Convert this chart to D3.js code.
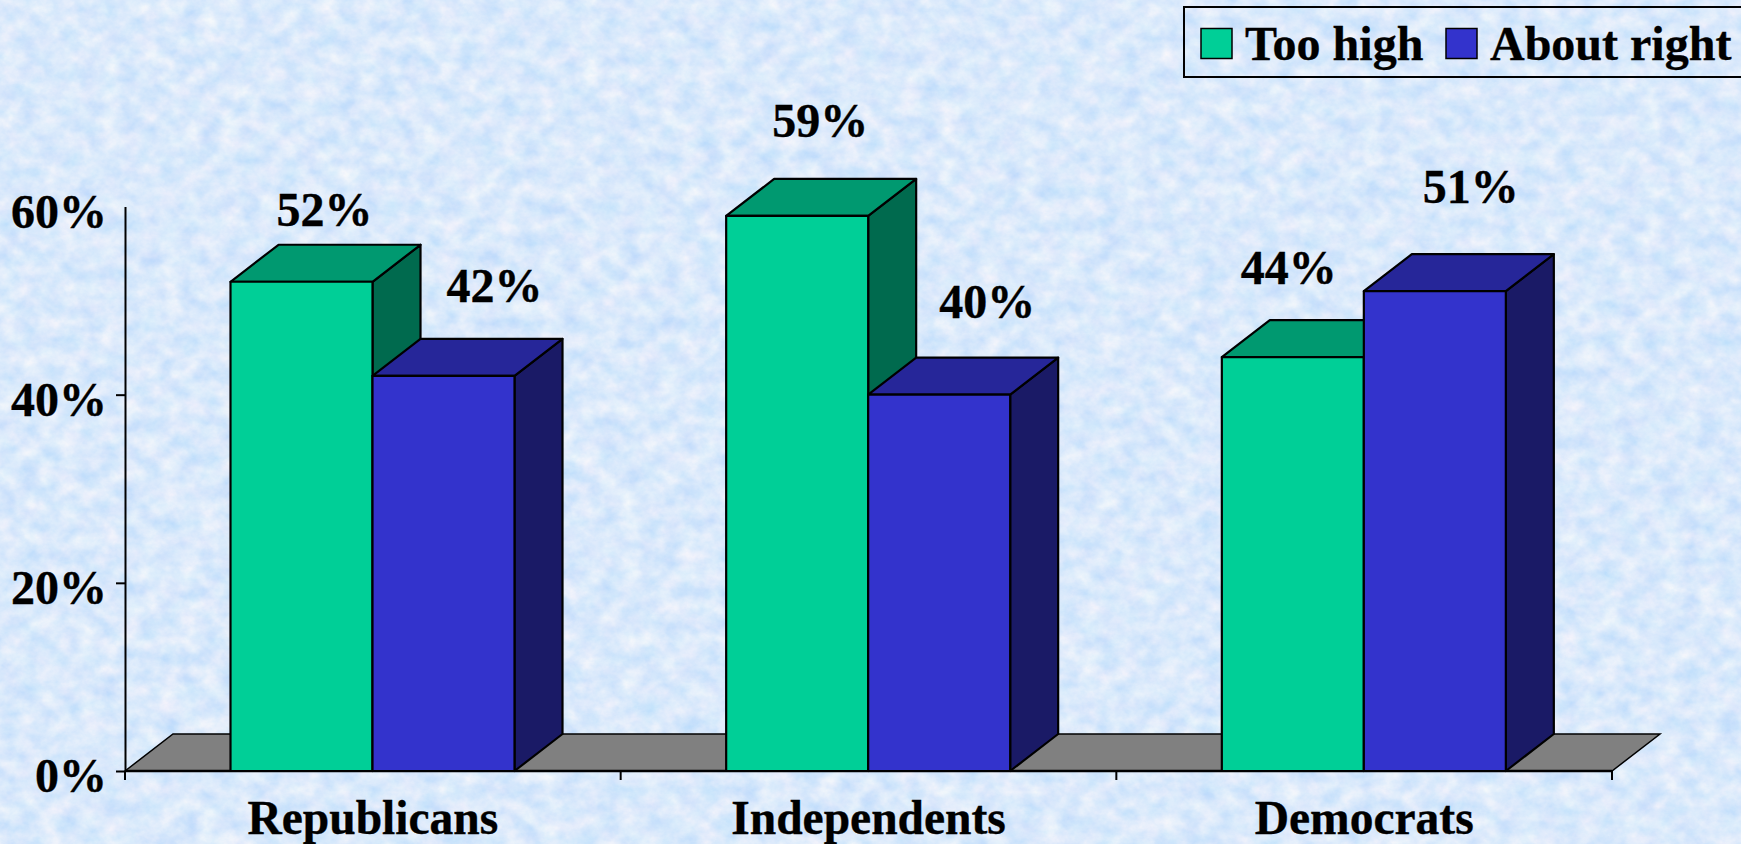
<!DOCTYPE html>
<html><head><meta charset="utf-8">
<script src="https://cdn.jsdelivr.net/npm/d3@7"></script>
<style>html,body{margin:0;padding:0;background:#dceafb;overflow:hidden}
text{font-family:"Liberation Serif",serif;font-weight:bold;fill:#000;stroke:#000;stroke-width:0.35px}</style></head>
<body><svg id="c" width="1741" height="844"></svg>
<script>
const categories = ["Republicans","Independents","Democrats"];
const seriesNames = ["Too high","About right"];
const tooHigh = [52,59,44];
const aboutRight = [42,40,51];
const yTicks = [0,20,40,60];

const frontColors = ["#00CF97","#3333CC"];
const topColors = ["#009970","#262699"];
const sideColors = ["#006A4E","#1A1A66"];
const labelOffsets = [[[23,-72],[51,-90]],[[23,-95],[48,-93]],[[-4,-89],[36,-104]]];
const DX = 48, DY = 37, FS = 48;

const svg = d3.select("#c");
const defs = svg.append("defs");
const f = defs.append("filter").attr("id","tex").attr("x",0).attr("y",0).attr("width","100%").attr("height","100%")
  .attr("color-interpolation-filters","sRGB");
f.append("feTurbulence").attr("type","fractalNoise").attr("baseFrequency","0.05 0.06").attr("numOctaves",6).attr("seed",7);
f.append("feColorMatrix").attr("type","matrix").attr("values",
 "0.26 0.03 0 0 0.71  0.12 0.05 0 0 0.83  0 0 0 0 0.985  0 0 0 0 1");
svg.append("rect").attr("width",1741).attr("height",844).attr("fill","#dceafb").attr("filter","url(#tex)");

const x = d3.scaleBand().domain(categories).range([125,1612]);
const inner = d3.scaleBand().domain(seriesNames).range([105.5,389.5]);
const y = d3.scaleLinear().domain([0,60]).range([771,206.5]);

// floor
const path = pts => "M"+pts.map(p=>p.join(",")).join("L")+"Z";
svg.append("path").attr("d",path([[x.range()[0],y(0)],[x.range()[0]+DX,y(0)-DY],[x.range()[1]+DX,y(0)-DY],[x.range()[1],y(0)]]))
  .attr("fill","#808080").attr("stroke","#000").attr("stroke-width",1.5);

// axes
const yAxis = d3.axisLeft(y).tickValues(yTicks).tickFormat(d=>d+"%").tickSize(9).tickSizeOuter(0).tickPadding(9);
const gy = svg.append("g").attr("transform",`translate(${x.range()[0]},0)`).call(yAxis);
gy.selectAll("text").attr("font-size",FS).attr("dy","0.43em").style("font-family","Liberation Serif").style("font-weight","bold");
gy.selectAll("line,path").attr("stroke","#000").attr("stroke-width",2);
gy.selectAll(".tick").filter(d=>d===60).select("line").remove();

const xAxis = d3.axisBottom(x).tickSize(0).tickPadding(29);
const gx = svg.append("g").attr("transform",`translate(0,${y(0)})`).call(xAxis);
gx.selectAll("text").attr("font-size",47.5).style("font-family","Liberation Serif").style("font-weight","bold");
gx.select("path").remove();
svg.append("g").selectAll("line").data([...categories.map(c=>x(c)), x.range()[1]]).join("line")
  .attr("x1",d=>d).attr("x2",d=>d).attr("y1",y(0)).attr("y2",y(0)+9).attr("stroke","#000").attr("stroke-width",2);
svg.append("line").attr("x1",x.range()[0]).attr("x2",x.range()[1]).attr("y1",y(0)).attr("y2",y(0)).attr("stroke","#000").attr("stroke-width",2.5);

// bars
const series = [tooHigh, aboutRight];
categories.forEach((c,ci)=>{
  seriesNames.forEach((s,si)=>{
    const v = series[si][ci], L = x(c)+inner(s), W = inner.bandwidth(), T = y(v), B = y(0);
    const g = svg.append("g").attr("stroke","#000").attr("stroke-width",2.2).attr("stroke-linejoin","round");
    g.append("path").attr("d",path([[L+W,T],[L+W+DX,T-DY],[L+W+DX,B-DY],[L+W,B]])).attr("fill",sideColors[si]);
    g.append("path").attr("d",path([[L,T],[L+DX,T-DY],[L+W+DX,T-DY],[L+W,T]])).attr("fill",topColors[si]);
    g.append("rect").attr("x",L).attr("y",T).attr("width",W).attr("height",B-T).attr("fill",frontColors[si]);
  });
});
// value labels on top
categories.forEach((c,ci)=>{
  seriesNames.forEach((s,si)=>{
    const v = series[si][ci], o = labelOffsets[ci][si];
    svg.append("text").attr("x",x(c)+inner(s)+inner.bandwidth()/2+o[0]).attr("y",y(v)+o[1])
      .attr("dy","0.34em").attr("text-anchor","middle").attr("font-size",FS).text(v+"%");
  });
});

// legend
svg.append("rect").attr("x",1184).attr("y",7).attr("width",600).attr("height",70).attr("fill","none").attr("stroke","#000").attr("stroke-width",2);
const lx = [1201,1446], tx=[1245,1490];
seriesNames.forEach((s,i)=>{
  svg.append("rect").attr("x",lx[i]).attr("y",28.5).attr("width",31).attr("height",30).attr("fill",frontColors[i]).attr("stroke","#000").attr("stroke-width",1.5);
  svg.append("text").attr("x",tx[i]).attr("y",60).attr("font-size",FS).text(s);
});
</script></body></html>
